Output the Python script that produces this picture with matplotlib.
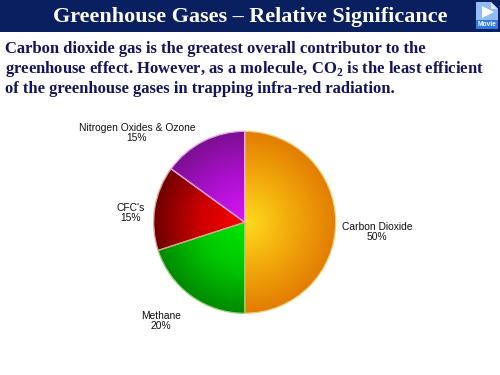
import numpy as np
import matplotlib
matplotlib.use("Agg")
import matplotlib.pyplot as plt
from matplotlib.colors import LinearSegmentedColormap
from matplotlib.patches import Rectangle, Polygon

# ==========================================
# 1. Data
# ==========================================
TITLE = "Greenhouse Gases \u2013 Relative Significance"
BODY_LINES = [
    "Carbon dioxide gas is the greatest overall contributor to the",
    "greenhouse effect. However, as a molecule, CO$_\\mathbf{2}$ is the least efficient",
    "of the greenhouse gases in trapping infra-red radiation.",
]
gases = ["Carbon Dioxide", "Methane", "CFC's", "Nitrogen Oxides & Ozone"]
shares = [50, 20, 15, 15]

# gradient colours, pie centre -> mid -> rim
inner_colors = ["#ffdc1e", "#00e600", "#ff0000", "#d816f8"]
mid_colors = ["#f2aa0c", "#00c800", "#cc0000", "#ae10d0"]
outer_colors = ["#e27c02", "#008a00", "#700000", "#7c0e92"]
rim_colors = ["#f3cf7c", "#8fcf70", "#e0a090", "#e8a0f0"]

# label centres in pixels
label_xy = [(377, 232), (161, 321), (131, 213), (137, 133)]

plt.rcParams["mathtext.fontset"] = "custom"
plt.rcParams["mathtext.bf"] = "Liberation Serif:bold"

fig = plt.figure(figsize=(5, 3.75), dpi=100, facecolor="white")

# pixel canvas for header, text and icon
bg = fig.add_axes([0, 0, 1, 1])
bg.set_xlim(0, 500)
bg.set_ylim(375, 0)
bg.axis("off")

bg.add_patch(Rectangle((0, 0), 500, 31.5, color="#0a1f60", lw=0))
bg.text(250, 17, TITLE, color="white", ha="center", va="center",
        family="Liberation Serif", weight="bold", fontsize=15.9)

for line, y in zip(BODY_LINES, [53, 73, 93]):
    bg.text(5, y, line, color="#14145e", ha="left", va="baseline",
            family="Liberation Serif", weight="bold", fontsize=12.0)

# movie icon
bg.add_patch(Polygon([(476, 2), (491, 2), (498, 9), (498, 29), (476, 29)],
                     closed=True, color="#92bcf6", lw=0))
bg.add_patch(Polygon([(491, 2), (491, 9), (498, 9)], closed=True, color="#dbe8fb", lw=0))
bg.add_patch(Rectangle((476, 20), 22, 9, color="#2f7be6", lw=0))
bg.add_patch(Polygon([(482, 6), (482, 18), (494, 12)], closed=True, color="white", lw=0))
bg.text(487, 24.5, "Movie", color="white", ha="center", va="center",
        family="Liberation Sans", weight="bold", fontsize=4.8)

# ==========================================
# 2. Pie
# ==========================================
cx, cy, r = 244.7, 222.3, 91
pad = 1.02
ax = fig.add_axes([(cx - r * pad) / 500, 1 - (cy + r * pad) / 375,
                   2 * r * pad / 500, 2 * r * pad / 375])
wedges, _ = ax.pie(shares, startangle=90, counterclock=False, radius=1,
                   wedgeprops={"linewidth": 0.9})

xx, yy = np.meshgrid(np.linspace(-1, 1, 400), np.linspace(-1, 1, 400))
dist = np.clip(np.hypot(xx, yy), 0, 1)

for w, c0, c1, c2, rim in zip(wedges, inner_colors, mid_colors, outer_colors, rim_colors):
    cmap = LinearSegmentedColormap.from_list("w", [c0, c1, c2])
    im = ax.imshow(dist, cmap=cmap, vmin=0, vmax=1, extent=(-1, 1, -1, 1),
                   origin="lower", zorder=1)
    im.set_clip_path(w)
    w.set_facecolor("none")
    w.set_edgecolor(rim)
    w.set_zorder(5)
ax.set_xlim(-pad, pad)
ax.set_ylim(-pad, pad)
ax.set_aspect("equal")

for name, share, (lx, ly) in zip(gases, shares, label_xy):
    bg.text(lx, ly, f"{name}\n{share}%", ha="center", va="center", color="#111111",
            family="Liberation Sans", fontsize=7.4, linespacing=1.1)

fig.savefig("out.png", dpi=100, facecolor="white")
plt.close(fig)
